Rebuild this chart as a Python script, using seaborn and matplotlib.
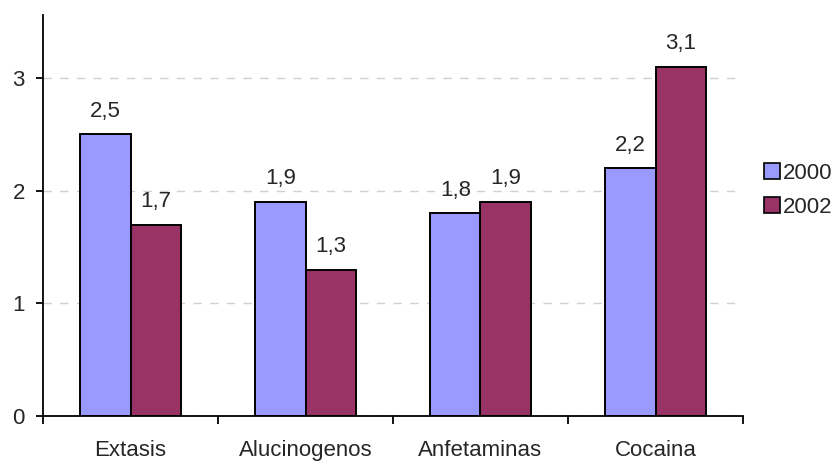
import pandas as pd
import numpy as np
import matplotlib
matplotlib.use("Agg")
import matplotlib.pyplot as plt
import seaborn as sns

# chart data
categories = ["Extasis", "Alucinogenos", "Anfetaminas", "Cocaina"]
years = ["2000", "2002"]
values_2000 = [2.5, 1.9, 1.8, 2.2]
values_2002 = [1.7, 1.3, 1.9, 3.1]

df = pd.DataFrame({
    "Droga": categories * 2,
    "Año": [years[0]] * 4 + [years[1]] * 4,
    "Valor": values_2000 + values_2002,
})

sns.set_style("white")
plt.rcParams["font.family"] = ["Liberation Sans", "DejaVu Sans"]
plt.rcParams["font.size"] = 16

fig = plt.figure(figsize=(8.39, 4.61), dpi=100)
ax = fig.add_axes([43 / 839, 45 / 461, 700 / 839, 401 / 461])

sns.barplot(data=df, x="Droga", y="Valor", hue="Año", order=categories,
            hue_order=years, palette=["#9999FF", "#993366"], width=0.572,
            edgecolor="black", linewidth=1.4, saturation=1, ax=ax)

for cont in ax.containers:
    ax.bar_label(cont, labels=[f"{v:.1f}".replace(".", ",") for v in cont.datavalues],
                 padding=9, fontsize=16)

ax.set_xlim(-0.5, 3.5)
ax.set_ylim(0, 3.56)
ax.set_yticks([0, 1, 2, 3])
ax.set_yticklabels(["0", "1", "2", "3"])
ax.yaxis.grid(True, color="#d0d0d0", linestyle=(0, (6, 6)), linewidth=1)
ax.set_axisbelow(True)

# category boundary ticks
ax.set_xticks(np.arange(-0.5, 4, 1), minor=True)
ax.tick_params(axis="x", which="major", length=0, pad=17, labelsize=16)
ax.tick_params(axis="x", which="minor", length=6, width=1.3, direction="out", color="black")
ax.tick_params(axis="y", length=5, width=1.3, direction="out", color="black", pad=8, labelsize=16)
ax.xaxis.set_ticks_position("bottom")
ax.yaxis.set_ticks_position("left")

for side in ["top", "right"]:
    ax.spines[side].set_visible(False)
for side in ["left", "bottom"]:
    ax.spines[side].set_color("black")
    ax.spines[side].set_linewidth(1.3)

ax.set_xlabel("")
ax.set_ylabel("")

leg = ax.legend(loc="center left", bbox_to_anchor=(1.03, 0.563), frameon=False,
                handlelength=0.7, handleheight=0.7, handletextpad=0.15,
                labelspacing=0.6, fontsize=16, borderaxespad=0, borderpad=0)
for h in leg.legend_handles:
    h.set_edgecolor("black")
    h.set_linewidth(1.2)

plt.savefig("out.png", dpi=100)
